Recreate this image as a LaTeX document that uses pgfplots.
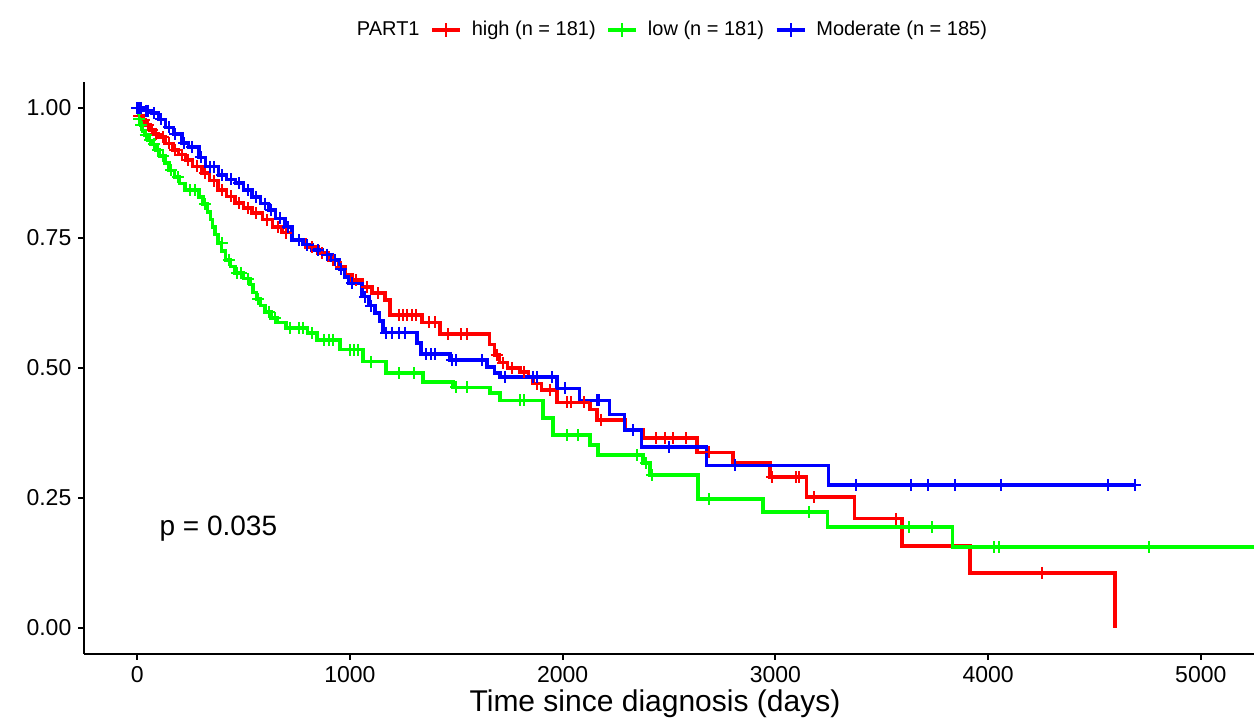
\documentclass[border=0pt]{standalone}
\usepackage{pgfplots}
\pgfplotsset{compat=1.18}
\usepackage{fontspec}
\setmainfont{Liberation Sans}
\definecolor{kmred}{RGB}{255,0,0}
\definecolor{kmgreen}{RGB}{0,255,0}
\definecolor{kmblue}{RGB}{0,0,255}
\begin{document}
\begin{tikzpicture}
\useasboundingbox (-42pt,-36.5pt) rectangle (585pt,327pt);
\begin{axis}[
  at={(0pt,0pt)}, anchor=south west,
  scale only axis, width=585pt, height=286pt,
  xmin=-250, xmax=5250, ymin=-0.05, ymax=1.05,
  axis x line*=bottom, axis y line*=left,
  axis line style={line width=1pt, black},
  tick align=outside, tick pos=left,
  major tick length=2.8pt,
  every tick/.style={black, line width=1pt},
  xtick={0,1000,2000,3000,4000,5000},
  ytick={0,0.25,0.5,0.75,1},
  yticklabels={0.00,0.25,0.50,0.75,1.00},
  /pgf/number format/assume math mode=true,
  /pgf/number format/set thousands separator={},
  tick label style={font=\fontsize{11.5}{13}\selectfont, black},
  xlabel={Time since diagnosis (days)},
  xlabel style={font=\fontsize{15}{17}\selectfont, at={(axis description cs:0.488,-0.1014)}, anchor=base},
  clip=true,
  legend columns=-1,
  legend style={draw=none, fill=none, at={(0.5000,1.091)}, anchor=center,
    font=\fontsize{10}{12}\selectfont,
    /tikz/every odd column/.append style={column sep=3pt},
    /tikz/every even column/.append style={column sep=3.4pt}},
  legend image code/.code={
    \draw[#1, line width=1.7pt] (0pt,0pt) -- (14pt,0pt);
    \draw[#1, line width=1pt] (7pt,-3.3pt) -- (7pt,3.3pt);},
]
\addlegendimage{empty legend}
\addlegendentry{PART1}

% high (red)
\addplot[kmred, line width=1.7pt, const plot, no marks] coordinates {
(0,1.0) (5,0.985) (20,0.977) (40,0.967) (60,0.958) (80,0.950) (100,0.944) (130,0.932)
(165,0.919) (195,0.910) (226,0.900) (260,0.888) (305,0.875) (340,0.860) (380,0.842)
(420,0.830) (460,0.817) (500,0.808) (540,0.798) (590,0.785) (635,0.771) (680,0.760)
(728,0.746) (790,0.733) (850,0.721) (900,0.708) (945,0.694) (980,0.680) (1010,0.669)
(1060,0.656) (1104,0.644) (1165,0.631) (1189,0.602) (1338,0.588) (1423,0.565)
(1657,0.545) (1680,0.525) (1704,0.510) (1740,0.500) (1800,0.492) (1840,0.483)
(1861,0.470) (1900,0.458) (1974,0.434) (2129,0.420) (2162,0.400) (2293,0.381)
(2378,0.365) (2632,0.338) (2800,0.317) (2975,0.290) (3146,0.252) (3371,0.210)
(3596,0.158) (3915,0.106) (4596,0.0)
};
\addlegendentry{high (n = 181)}

% low (green)
\addplot[kmgreen, line width=1.7pt, const plot, no marks] coordinates {
(0,1.0) (5,0.989) (10,0.978) (18,0.967) (25,0.956) (35,0.948) (50,0.938) (65,0.930)
(85,0.919) (105,0.908) (130,0.894) (150,0.880) (175,0.867) (200,0.855) (225,0.842)
(290,0.829) (310,0.815) (330,0.800) (345,0.785) (355,0.771) (365,0.757) (380,0.740)
(395,0.725) (415,0.708) (440,0.695) (460,0.683) (500,0.672) (530,0.660) (545,0.645)
(560,0.633) (580,0.620) (600,0.608) (630,0.596) (660,0.588) (700,0.577) (800,0.567)
(846,0.554) (954,0.535) (1062,0.512) (1170,0.490) (1344,0.473) (1485,0.463)
(1659,0.452) (1706,0.438) (1908,0.404) (1955,0.371) (2129,0.352) (2166,0.333)
(2378,0.317) (2411,0.294) (2636,0.248) (2942,0.223) (3245,0.194) (3832,0.156)
(5300,0.156)
};
\addlegendentry{low (n = 181)}

% Moderate (blue)
\addplot[kmblue, line width=1.7pt, const plot, no marks] coordinates {
(0,1.0) (30,0.995) (70,0.99) (100,0.978) (132,0.963) (170,0.950) (211,0.933)
(240,0.925) (290,0.905) (320,0.887) (381,0.871) (420,0.863) (461,0.856) (500,0.842)
(540,0.829) (580,0.816) (616,0.804) (650,0.788) (695,0.771) (728,0.746) (780,0.737)
(822,0.727) (870,0.718) (916,0.708) (950,0.690) (975,0.675) (992,0.663) (1057,0.637)
(1090,0.620) (1118,0.606) (1140,0.590) (1156,0.568) (1316,0.548) (1335,0.527)
(1471,0.515) (1645,0.502) (1680,0.490) (1706,0.483) (1974,0.461) (2080,0.438)
(2221,0.410) (2291,0.381) (2371,0.348) (2676,0.313) (3249,0.275) (4695,0.275)
};
\addlegendentry{Moderate (n = 185)}

% censor marks
\addplot[kmred, only marks, mark=+, mark size=3pt, mark options={line width=1pt}, forget plot] coordinates {
(10,0.985) (30,0.977) (50,0.967) (70,0.958) (90,0.950) (120,0.944) (150,0.932)
(180,0.919) (210,0.910) (240,0.900) (280,0.888) (320,0.875) (360,0.860) (400,0.842)
(440,0.830) (480,0.817) (520,0.808) (560,0.798) (610,0.785) (660,0.771) (700,0.760)
(760,0.746) (820,0.733) (870,0.721) (920,0.708) (960,0.694) (1030,0.669) (1080,0.656)
(1130,0.644) (1230,0.602) (1250,0.602) (1270,0.602) (1290,0.602) (1310,0.602)
(1370,0.588) (1400,0.588) (1460,0.565) (1520,0.565) (1550,0.565) (1690,0.525)
(1720,0.510) (1760,0.500) (1820,0.492) (1880,0.470) (1940,0.458) (2020,0.434)
(2040,0.434) (2100,0.434) (2180,0.400) (2440,0.365) (2480,0.365) (2520,0.365)
(2580,0.365) (2690,0.338) (2986,0.290) (3099,0.290) (3110,0.290) (3183,0.252)
(3568,0.210) (4254,0.106)
};
\addplot[kmgreen, only marks, mark=+, mark size=3pt, mark options={line width=1pt}, forget plot] coordinates {
(10,0.978) (20,0.967) (40,0.948) (60,0.938) (80,0.930) (100,0.919) (120,0.908)
(160,0.880) (190,0.867) (250,0.842) (270,0.842) (320,0.815) (400,0.740) (430,0.708)
(470,0.683) (490,0.683) (520,0.672) (570,0.633) (620,0.608) (650,0.596) (720,0.577)
(760,0.577) (780,0.577) (820,0.567) (880,0.554) (900,0.554) (920,0.554) (1000,0.535)
(1020,0.535) (1040,0.535) (1100,0.512) (1230,0.490) (1300,0.490) (1500,0.463)
(1550,0.463) (1800,0.438) (1820,0.438) (2020,0.371) (2070,0.371) (2350,0.333)
(2390,0.317) (2420,0.294) (2690,0.248) (3160,0.223) (3629,0.194) (3737,0.194)
(4028,0.156) (4050,0.156) (4756,0.156)
};
\addplot[kmblue, only marks, mark=+, mark size=3pt, mark options={line width=1pt}, forget plot] coordinates {
(0,1.0) (10,1.0) (20,1.0) (40,0.995) (50,0.995) (80,0.99) (110,0.978) (150,0.963)
(180,0.950) (220,0.933) (260,0.925) (300,0.905) (340,0.887) (360,0.887) (400,0.871)
(440,0.863) (480,0.856) (520,0.842) (560,0.829) (600,0.816) (630,0.804) (670,0.788)
(710,0.771) (760,0.746) (800,0.737) (850,0.727) (890,0.718) (930,0.708) (960,0.690)
(1010,0.663) (1070,0.637) (1100,0.620) (1170,0.568) (1200,0.568) (1230,0.568)
(1260,0.568) (1360,0.527) (1380,0.527) (1400,0.527) (1480,0.515) (1500,0.515)
(1620,0.515) (1730,0.483) (1860,0.483) (1880,0.483) (1950,0.483) (2010,0.461)
(2160,0.438) (2170,0.438) (2330,0.381) (2500,0.348) (2810,0.313) (3380,0.275)
(3638,0.275) (3718,0.275) (3845,0.275) (4061,0.275) (4563,0.275) (4690,0.275)
};

\node[anchor=west, font=\fontsize{14}{16}\selectfont] at (axis cs:72,0.192) {p = 0.035};
\end{axis}
\end{tikzpicture}
\end{document}
